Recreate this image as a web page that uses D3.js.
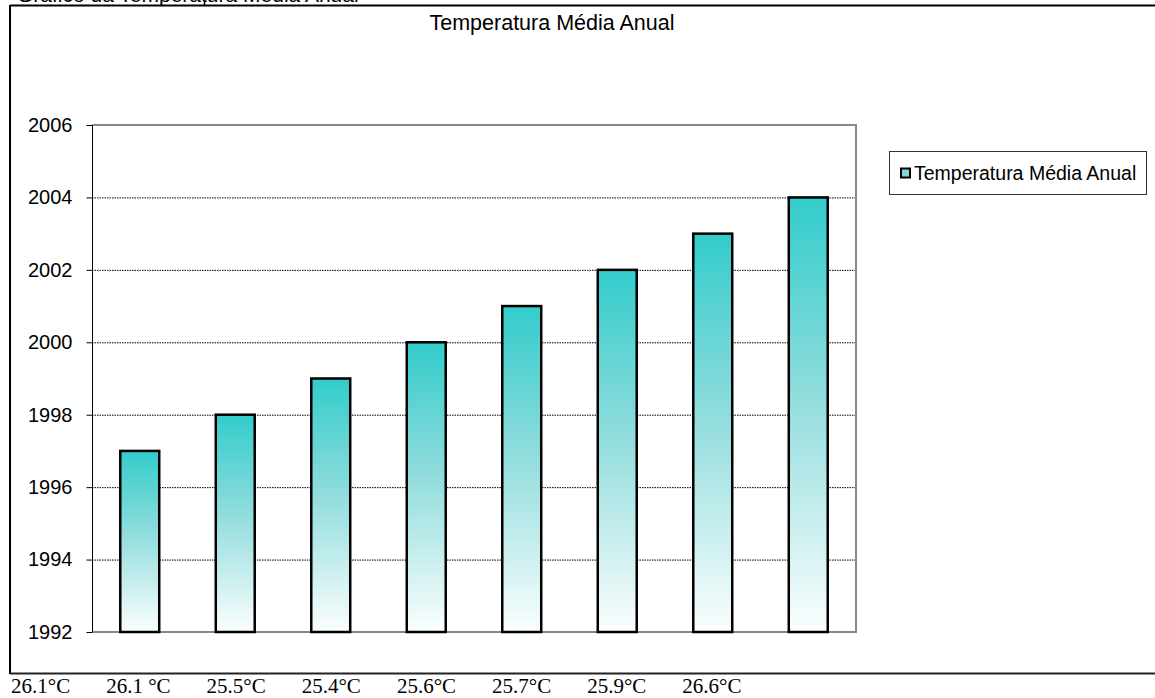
<!DOCTYPE html>
<html>
<head>
<meta charset="utf-8">
<script src="https://cdn.jsdelivr.net/npm/d3@7"></script>
<style>
  html, body { margin: 0; padding: 0; background: #fff; }
  svg { display: block; }
</style>
</head>
<body>
<svg id="chart" width="1155" height="698"></svg>
<script>
// Annual mean temperature readings (category labels) and the year plotted for each
const temperatureLabels = ["26.1°C", "26.1 °C", "25.5°C", "25.4°C", "25.6°C", "25.7°C", "25.9°C", "26.6°C"];
const yearValues = [1997, 1998, 1999, 2000, 2001, 2002, 2003, 2004];
const yTicks = [1992, 1994, 1996, 1998, 2000, 2002, 2004, 2006];
const docHeading = "Gráfico da Temperatura Média Anual";
const chartTitle = "Temperatura Média Anual";
const seriesName = "Temperatura Média Anual";

const svg = d3.select("#chart");
const sans = "Arial, 'Liberation Sans', sans-serif";
const serif = "'Times New Roman', 'Liberation Serif', serif";

// gradient used by the bars: teal at the top fading to white
const defs = svg.append("defs");
const grad = defs.append("linearGradient")
  .attr("id", "barFill").attr("x1", 0).attr("y1", 0).attr("x2", 0).attr("y2", 1);
grad.append("stop").attr("offset", "0%").attr("stop-color", "#33cccc");
grad.append("stop").attr("offset", "45%").attr("stop-color", "#8fdcdc");
grad.append("stop").attr("offset", "100%").attr("stop-color", "#fbfefe");

// heading of the document, partly above the page edge
svg.append("text")
  .attr("x", 17).attr("y", 2)
  .attr("font-family", sans).attr("font-size", 21)
  .attr("fill", "#000")
  .text(docHeading);

// chart frame
const frame = svg.append("g");
frame.append("line").attr("x1", 10).attr("x2", 1160).attr("y1", 5.5).attr("y2", 5.5)
  .attr("stroke", "#000").attr("stroke-width", 2);
frame.append("line").attr("x1", 10).attr("x2", 10).attr("y1", 5).attr("y2", 674)
  .attr("stroke", "#000").attr("stroke-width", 2);
frame.append("line").attr("x1", 10).attr("x2", 1160).attr("y1", 673.5).attr("y2", 673.5)
  .attr("stroke", "#222").attr("stroke-width", 2);
frame.append("line").attr("x1", 204.5).attr("x2", 204.5).attr("y1", 0).attr("y2", 5)
  .attr("stroke", "#000").attr("stroke-width", 1.5);

// chart title
svg.append("text")
  .attr("x", 552).attr("y", 30)
  .attr("text-anchor", "middle")
  .attr("font-family", sans).attr("font-size", 21.5)
  .text(chartTitle);

// plot area
const plot = { left: 92, right: 856, top: 125, bottom: 632 };

const x = d3.scaleBand()
  .domain(temperatureLabels)
  .range([plot.left, plot.right])
  .paddingInner(0.592)
  .paddingOuter(0.296);

const y = d3.scaleLinear()
  .domain([d3.min(yTicks), d3.max(yTicks)])
  .range([plot.bottom, plot.top]);

// dotted gridlines
svg.append("g")
  .selectAll("line")
  .data(yTicks.filter(t => t !== d3.min(yTicks) && t !== d3.max(yTicks)))
  .join("line")
  .attr("x1", plot.left).attr("x2", plot.right)
  .attr("y1", d => y(d) + 0.5).attr("y2", d => y(d) + 0.5)
  .attr("stroke", "#000").attr("stroke-width", 1)
  .attr("stroke-dasharray", "1.5,1");

// plot border (top, right, bottom in grey)
const border = svg.append("g").attr("stroke", "#888").attr("stroke-width", 2).attr("fill", "none");
border.append("path")
  .attr("d", `M${plot.left},${y(d3.max(yTicks))}H${plot.right}V${y(d3.min(yTicks))}H${plot.left}`);

// bars
svg.append("g")
  .selectAll("rect")
  .data(yearValues)
  .join("rect")
  .attr("x", (d, i) => x(temperatureLabels[i]))
  .attr("width", x.bandwidth())
  .attr("y", d => y(d))
  .attr("height", d => y(d3.min(yTicks)) - y(d))
  .attr("fill", "url(#barFill)")
  .attr("stroke", "#000")
  .attr("stroke-width", 2.5);

// y axis
const yAxis = svg.append("g")
  .attr("transform", `translate(${plot.left + 0.5},0)`)
  .call(d3.axisLeft(y).tickValues(yTicks).tickFormat(d3.format("d")).tickSize(6).tickPadding(14));
yAxis.select(".domain").attr("stroke", "#000").attr("d", `M0,${plot.top}V${plot.bottom}`);
yAxis.selectAll(".tick line").attr("stroke", "#000");
yAxis.selectAll(".tick text")
  .attr("font-family", sans).attr("font-size", 20).attr("fill", "#000");

// legend
const legend = svg.append("g");
legend.append("rect")
  .attr("x", 889.5).attr("y", 151.5).attr("width", 257).attr("height", 43)
  .attr("fill", "#fff").attr("stroke", "#333").attr("stroke-width", 1);
legend.append("rect")
  .attr("x", 901).attr("y", 168.5).attr("width", 9).attr("height", 9)
  .attr("fill", "#7fd6d6").attr("stroke", "#000").attr("stroke-width", 2);
legend.append("text")
  .attr("x", 914).attr("y", 179.5)
  .attr("font-family", sans).attr("font-size", 19.5)
  .text(seriesName);

// temperature readings written below the chart, flowing left to right
const readings = svg.append("g")
  .attr("font-family", serif).attr("font-size", 21).attr("fill", "#000");
let cursor = 11;
temperatureLabels.forEach(label => {
  const t = readings.append("text")
    .attr("x", cursor).attr("y", 693)
    .attr("xml:space", "preserve")
    .style("white-space", "pre")
    .text(label);
  cursor += t.node().getComputedTextLength() + 36;
});
</script>
</body>
</html>
